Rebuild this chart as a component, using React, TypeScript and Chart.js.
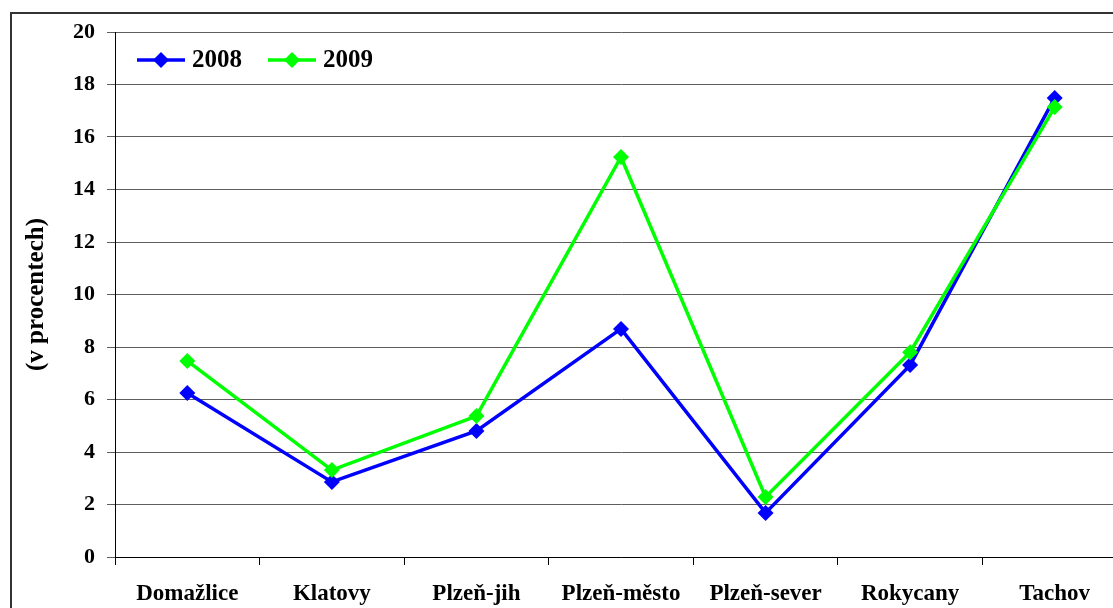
import React, { useEffect, useRef } from "react";
import { Chart, registerables } from "chart.js";

Chart.register(...registerables);

const categories = ["Domažlice", "Klatovy", "Plzeň-jih", "Plzeň-město", "Plzeň-sever", "Rokycany", "Tachov"];
const series2008 = [6.25, 2.86, 4.8, 8.69, 1.68, 7.31, 17.49];
const series2009 = [7.47, 3.31, 5.37, 15.24, 2.29, 7.8, 17.14];
const seriesLabels = ["2008", "2009"];
const seriesColors = ["#0000FF", "#00FF00"];
const yTitle = "(v procentech)";

const FONT = "'Liberation Serif', 'Times New Roman', serif";

const frame = {
  id: "frame",
  beforeDraw(chart: any) {
    const ctx = chart.ctx;
    ctx.save();
    ctx.fillStyle = "#ffffff";
    ctx.fillRect(0, 0, chart.width, chart.height);
    ctx.strokeStyle = "#333333";
    ctx.lineWidth = 2;
    ctx.strokeRect(11, 13, chart.width + 50, chart.height + 50);
    ctx.restore();
  },
};

const legendInside = {
  id: "legendInside",
  afterDraw(chart: any) {
    const ctx = chart.ctx;
    const area = chart.chartArea;
    const y = area.top + 28;
    const starts = [area.left + 22, area.left + 153];
    ctx.save();
    chart.data.datasets.forEach((ds: any, i: number) => {
      const x0 = starts[i];
      ctx.strokeStyle = ds.borderColor;
      ctx.lineWidth = 3.5;
      ctx.beginPath();
      ctx.moveTo(x0, y);
      ctx.lineTo(x0 + 48, y);
      ctx.stroke();
      const cx = x0 + 24;
      const r = 8;
      ctx.fillStyle = ds.backgroundColor;
      ctx.beginPath();
      ctx.moveTo(cx, y - r);
      ctx.lineTo(cx + r, y);
      ctx.lineTo(cx, y + r);
      ctx.lineTo(cx - r, y);
      ctx.closePath();
      ctx.fill();
      ctx.fillStyle = "#000";
      ctx.font = `bold 25px ${FONT}`;
      ctx.textBaseline = "middle";
      ctx.textAlign = "left";
      ctx.fillText(ds.label, x0 + 55, y + 1);
    });
    ctx.restore();
  },
};

export default function App() {
  const ref = useRef<HTMLCanvasElement>(null);
  useEffect(() => {
    if (!ref.current) return;
    const chart = new Chart(ref.current, {
      type: "line",
      data: {
        labels: categories,
        datasets: [
          {
            label: seriesLabels[0],
            data: series2008,
            borderColor: seriesColors[0],
            backgroundColor: seriesColors[0],
            borderWidth: 3.5,
            pointStyle: "rectRot",
            pointRadius: 8,
            pointBorderWidth: 0,
            tension: 0,
            order: 2,
          },
          {
            label: seriesLabels[1],
            data: series2009,
            borderColor: seriesColors[1],
            backgroundColor: seriesColors[1],
            borderWidth: 3.5,
            pointStyle: "rectRot",
            pointRadius: 8,
            pointBorderWidth: 0,
            tension: 0,
            order: 1,
          },
        ],
      },
      options: {
        responsive: false,
        animation: false,
        layout: { padding: { left: 12, top: 32, right: 23, bottom: 23 } },
        plugins: {
          legend: { display: false },
          title: { display: false },
          tooltip: { enabled: false },
        },
        scales: {
          x: {
            type: "category",
            offset: true,
            grid: {
              offset: true,
              drawOnChartArea: false,
              drawTicks: true,
              tickLength: 8,
              color: "#000",
            },
            border: { color: "#000", width: 1 },
            ticks: {
              color: "#000",
              font: { family: FONT, size: 23, weight: "bold" },
              padding: 15,
              maxRotation: 0,
              autoSkip: false,
            },
            afterFit(scale: any) {
              scale.height = 60;
            },
          },
          y: {
            min: 0,
            max: 20,
            ticks: {
              stepSize: 2,
              color: "#000",
              font: { family: FONT, size: 22, weight: "bold" },
              padding: 12,
            },
            grid: { color: "#5e5e5e", tickLength: 8, lineWidth: 1 },
            border: { color: "#000", width: 1 },
            title: {
              display: true,
              text: yTitle,
              color: "#000",
              font: { family: FONT, size: 25, weight: "bold" },
              padding: { top: 10, bottom: 0 },
            },
            afterFit(scale: any) {
              scale.width = 103;
            },
          },
        },
      },
      plugins: [frame, legendInside],
    });
    return () => chart.destroy();
  }, []);
  return (
    <div style={{ position: "fixed", left: 0, top: 0, width: 1113, height: 608, overflow: "hidden", background: "#fff" }}>
      <canvas ref={ref} width={1150} height={640} style={{ display: "block" }} />
    </div>
  );
}
